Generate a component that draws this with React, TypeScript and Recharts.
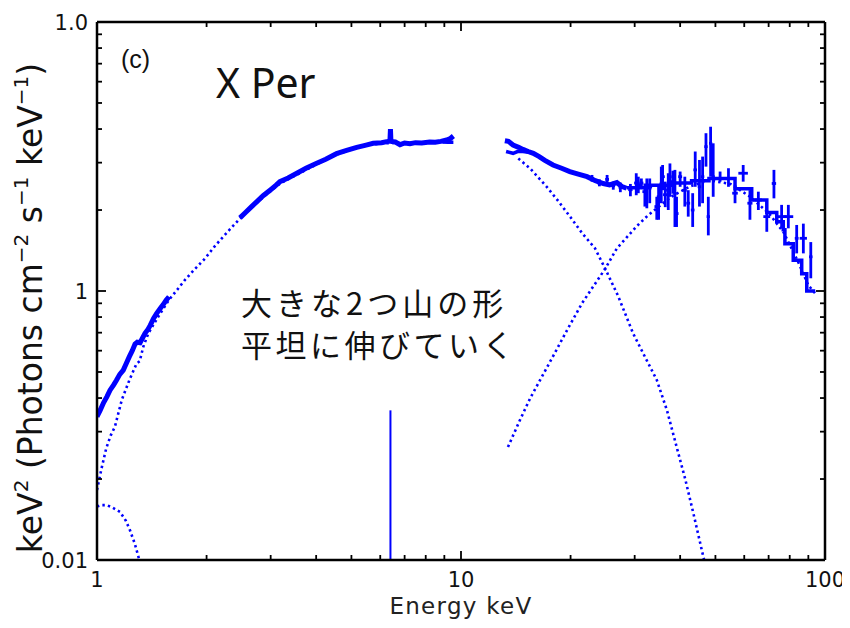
import React from "react";
import {
  ComposedChart,
  Line,
  Scatter,
  ErrorBar,
  XAxis,
  YAxis,
} from "recharts";

const W = 842;
const H = 628;
// plot frame inside the svg
const PL = 89;
const PT = 22;
const PR = 817;
const PB = 560;
const BLUE = "#0000ff";
const SANS = "'DejaVu Sans', sans-serif";

// [energy keV, keV^2 flux]
const softBand = [
  [1.0, 0.341], [1.02, 0.36], [1.043, 0.385], [1.065, 0.405], [1.086, 0.428],
  [1.11, 0.447], [1.13, 0.465], [1.155, 0.49], [1.181, 0.508], [1.205, 0.54],
  [1.227, 0.57], [1.25, 0.6], [1.272, 0.635], [1.29, 0.645], [1.313, 0.642],
  [1.335, 0.67], [1.355, 0.696], [1.38, 0.72], [1.4, 0.745], [1.43, 0.79],
  [1.459, 0.826], [1.49, 0.86], [1.52, 0.89], [1.55, 0.925], [1.577, 0.952],
];

const midBand = [
  [2.47, 1.87], [2.55, 1.95], [2.65, 2.05], [2.75, 2.15], [2.86, 2.26],
  [3.0, 2.38], [3.1, 2.47], [3.18, 2.55], [3.35, 2.63], [3.54, 2.74],
  [3.75, 2.86], [4.0, 2.98], [4.25, 3.09], [4.55, 3.24], [4.85, 3.33],
  [5.17, 3.42], [5.45, 3.48], [5.74, 3.54], [6.05, 3.56], [6.3, 3.6],
  [6.38, 3.62], [6.4, 4.0], [6.42, 3.6], [6.6, 3.58], [6.8, 3.5],
  [7.0, 3.55], [7.24, 3.53], [7.5, 3.56], [7.8, 3.55], [8.2, 3.58],
  [8.5, 3.57], [8.8, 3.6], [9.13, 3.64], [9.35, 3.69], [9.53, 3.77],
];
const midBandLow = [[8.9, 3.58], [9.2, 3.57], [9.53, 3.57]];

const hardBand = [
  [13.2, 3.62], [13.5, 3.6], [13.9, 3.49], [14.4, 3.42], [14.8, 3.36],
  [15.3, 3.3], [15.8, 3.25], [16.4, 3.16], [17.0, 3.06], [17.9, 2.94],
  [18.9, 2.86], [19.9, 2.78], [21.0, 2.72], [22.2, 2.66], [23.4, 2.57],
  [24.6, 2.51], [25.6, 2.48], [26.8, 2.53], [27.6, 2.45], [28.5, 2.41],
];
const hardBandLow = [[13.3, 3.3], [13.9, 3.25], [14.3, 3.3], [14.8, 3.3], [15.5, 3.27]];

// [energy, value, lower, upper, half bin width]
const hxdBins = [
  [22.9, 2.62, 2.55, 2.7, 0.3], [24.0, 2.52, 2.45, 2.6, 0.3],
  [25.2, 2.6, 2.5, 2.7, 0.3], [26.2, 2.46, 2.38, 2.55, 0.3],
  [27.4, 2.43, 2.33, 2.53, 0.3], [29.2, 2.38, 2.25, 2.5, 0.4],
  [30.3, 2.52, 2.27, 2.74, 0.4], [30.7, 2.48, 2.31, 2.66, 0.5],
  [31.3, 2.52, 2.4, 2.62, 0.4], [32.0, 2.34, 2.06, 2.51, 0.5],
  [32.4, 2.44, 2.03, 2.62, 0.4], [33.0, 2.44, 2.12, 2.62, 0.5],
  [34.5, 2.06, 1.84, 2.24, 0.5], [34.9, 2.24, 1.84, 2.44, 0.4],
  [35.5, 2.5, 2.12, 2.9, 0.4], [35.8, 2.66, 2.37, 2.94, 0.5],
  [36.4, 2.28, 2.05, 2.55, 0.5], [37.1, 2.37, 2.0, 2.74, 0.5],
  [37.5, 2.66, 2.24, 2.98, 0.4], [38.2, 2.55, 2.3, 2.8, 0.5],
  [38.7, 2.3, 1.73, 2.82, 0.4], [39.1, 1.94, 1.73, 2.24, 0.5],
  [40.0, 2.66, 2.44, 2.78, 0.5], [41.2, 2.37, 2.06, 2.66, 0.5],
  [42.1, 2.12, 1.89, 2.37, 0.5], [43.3, 2.0, 1.73, 2.31, 0.5],
  [44.0, 2.82, 2.44, 3.3, 0.5], [45.2, 2.44, 2.06, 3.07, 0.5],
  [46.1, 2.66, 2.12, 3.16, 0.5], [47.1, 3.44, 2.9, 3.86, 0.5],
  [47.8, 1.89, 1.61, 2.24, 0.5], [48.5, 3.54, 2.66, 4.08, 0.5],
  [49.3, 2.66, 2.24, 3.54, 0.5], [51.5, 2.62, 2.55, 2.78, 1.0],
  [54.3, 2.62, 2.44, 2.86, 1.0], [56.6, 2.31, 2.12, 2.48, 1.0],
  [59.6, 2.74, 2.55, 2.94, 1.8], [62.2, 2.12, 1.84, 2.37, 1.0],
  [65.6, 2.18, 2.0, 2.34, 1.5], [69.2, 1.89, 1.66, 2.0, 1.5],
  [72.4, 2.51, 2.21, 2.82, 1.0], [76.0, 1.89, 1.71, 2.09, 2.5],
  [79.3, 1.89, 1.71, 2.09, 2.5], [83.6, 1.57, 1.38, 1.76, 1.0],
  [87.2, 1.57, 1.38, 1.78, 2.0], [91.4, 1.34, 1.115, 1.52, 1.0],
];

const hxdModel = [
  [28.5, 2.42], [33, 2.47], [38, 2.52], [43, 2.57], [48, 2.62],
  [56.6, 2.4], [62.9, 2.18], [69.2, 1.96], [73.7, 1.81], [76.8, 1.69],
  [77.6, 1.5], [81.8, 1.3], [86.3, 1.16], [89.1, 1.0], [94.0, 1.0],
];

// model components (dotted)
const bbSoft = [
  [1.0, 0.182], [1.03, 0.22], [1.06, 0.26], [1.09, 0.29], [1.12, 0.313],
  [1.17, 0.394], [1.23, 0.47], [1.285, 0.538], [1.31, 0.548], [1.34, 0.62],
  [1.384, 0.696], [1.43, 0.75], [1.474, 0.803], [1.53, 0.87], [1.58, 0.93],
  [1.66, 1.01], [1.745, 1.1], [1.86, 1.21], [1.98, 1.32], [2.1, 1.46],
  [2.22, 1.59], [2.35, 1.73], [2.47, 1.86], [2.8, 2.18], [3.2, 2.52],
  [3.6, 2.74], [4.0, 2.95], [4.5, 3.2], [5.0, 3.36], [5.6, 3.5],
  [6.4, 3.55], [7.2, 3.55], [8.2, 3.57], [9.5, 3.6],
];
const bbHard = [
  [14.37, 3.11], [15.5, 2.85], [17.2, 2.44], [18.5, 2.16], [19.93, 1.89],
  [21.6, 1.63], [23.35, 1.44], [24.9, 1.21], [27.0, 0.96], [29.7, 0.696],
  [32.0, 0.57], [34.5, 0.467], [36.8, 0.36], [39.1, 0.264], [41.3, 0.2],
  [43.5, 0.149], [46.3, 0.103], [47.0, 0.095],
];
const hardHump = [
  [13.46, 0.263], [14.5, 0.33], [15.5, 0.4], [16.5, 0.467], [18.0, 0.58],
  [19.5, 0.71], [21.5, 0.9], [23.2, 1.05], [24.9, 1.21], [26.8, 1.44],
  [28.5, 1.58], [30.5, 1.75], [32.5, 1.9], [34.5, 2.03], [38.0, 2.25],
  [42.6, 2.45], [48.0, 2.58], [55, 2.5], [62, 2.25], [70, 1.95],
  [77, 1.65], [84, 1.3], [90, 1.05], [94, 0.98],
];
const softHump = [
  [1.0, 0.158], [1.03, 0.16], [1.063, 0.16], [1.1, 0.157], [1.157, 0.151],
  [1.2, 0.14], [1.232, 0.129], [1.27, 0.115], [1.307, 0.1],
];
const ironLine = [[6.4, 0.1], [6.4, 0.36]];

const xTicks = [1, 2, 3, 4, 5, 6, 7, 8, 9, 10, 20, 30, 40, 50, 60, 70, 80, 90, 100];
const yTicks = [0.1, 0.2, 0.3, 0.4, 0.5, 0.6, 0.7, 0.8, 0.9, 1, 2, 3, 4, 5, 6, 7, 8, 9, 10];
const yTickText: [number, string][] = [[10, "1.0"], [1, "1"], [0.1, "0.01"]];

const pts = (rows: number[][]) => rows.map(([e, v]) => ({ e, v }));
const isMajor = (v: number) => Math.abs(Math.log10(v) - Math.round(Math.log10(v))) < 1e-6;
const yLabel = (v: number) => yTickText.find(([k]) => Math.abs(k - v) < 1e-9)?.[1];

const binPts = hxdBins.map(([e, v, lo, hi, ew]) => ({ e, v, ey: [v - lo, hi - v], ex: ew }));

function BottomTick({ x, payload }: any) {
  const major = isMajor(payload.value);
  return (
    <g>
      <line x1={x} x2={x} y1={PB} y2={PB - (major ? 9 : 5)} stroke="#000" strokeWidth={1.8} />
      {major && (
        <text x={x} y={PB + 27} textAnchor="middle" fontSize={21} fontFamily={SANS} fill="#111">
          {payload.value}
        </text>
      )}
    </g>
  );
}

function TopTick({ x, payload }: any) {
  const major = isMajor(payload.value);
  return <line x1={x} x2={x} y1={PT} y2={PT + (major ? 9 : 5)} stroke="#000" strokeWidth={1.8} />;
}

function LeftTick({ y, payload }: any) {
  const major = isMajor(payload.value);
  const label = yLabel(payload.value);
  return (
    <g>
      <line x1={PL} x2={PL + (major ? 9 : 5)} y1={y} y2={y} stroke="#000" strokeWidth={1.8} />
      {label && (
        <text x={PL - 9} y={y + 8} textAnchor="end" fontSize={21} fontFamily={SANS} fill="#111">
          {label}
        </text>
      )}
    </g>
  );
}

function RightTick({ y, payload }: any) {
  const major = isMajor(payload.value);
  return <line x1={PR} x2={PR - (major ? 9 : 5)} y1={y} y2={y} stroke="#000" strokeWidth={1.8} />;
}

const noMarker = () => <g />;
const frame = { stroke: "#000", strokeWidth: 2.5 };

export default function App() {
  const solid = { stroke: BLUE, dot: false, isAnimationActive: false, type: "linear" as const };
  const dotted = { ...solid, strokeWidth: 2.6, strokeDasharray: "2.4 3.2" };
  return (
    <div style={{ width: W, height: H, margin: "-8px 0" }}>
      <ComposedChart width={W} height={H} margin={{ top: PT - 1, right: W - PR - 1, bottom: 0, left: 0 }}>
        <XAxis
          dataKey="e"
          type="number"
          scale="log"
          domain={[1, 100]}
          allowDataOverflow
          ticks={xTicks}
          interval={0}
          height={H - PB}
          tickLine={false}
          axisLine={frame}
          tick={BottomTick}
        />
        <XAxis
          xAxisId="top"
          orientation="top"
          dataKey="e"
          type="number"
          scale="log"
          domain={[1, 100]}
          allowDataOverflow
          ticks={xTicks}
          interval={0}
          height={1}
          tickLine={false}
          axisLine={frame}
          tick={TopTick}
        />
        <YAxis
          dataKey="v"
          type="number"
          scale="log"
          domain={[0.1, 10]}
          allowDataOverflow
          ticks={yTicks}
          interval={0}
          width={PL}
          tickLine={false}
          axisLine={frame}
          tick={LeftTick}
        />
        <YAxis
          yAxisId="right"
          orientation="right"
          dataKey="v"
          type="number"
          scale="log"
          domain={[0.1, 10]}
          allowDataOverflow
          ticks={yTicks}
          interval={0}
          width={1}
          tickLine={false}
          axisLine={frame}
          tick={RightTick}
        />

        <Line data={pts(softHump)} dataKey="v" {...dotted} />
        <Line data={pts(bbSoft)} dataKey="v" {...dotted} />
        <Line data={pts(bbHard)} dataKey="v" {...dotted} />
        <Line data={pts(hardHump)} dataKey="v" {...dotted} />
        <Line data={pts(ironLine)} dataKey="v" {...solid} strokeWidth={2} />

        <Line data={pts(softBand)} dataKey="v" {...solid} strokeWidth={5} />
        <Line data={pts(midBand)} dataKey="v" {...solid} strokeWidth={5} />
        <Line data={pts(midBandLow)} dataKey="v" {...solid} strokeWidth={3.5} />
        <Line data={pts(hardBand)} dataKey="v" {...solid} strokeWidth={5} />
        <Line data={pts(hardBandLow)} dataKey="v" {...solid} strokeWidth={3.5} />
        <Line data={pts(hxdModel)} dataKey="v" {...solid} type="stepAfter" strokeWidth={3.5} />
        <Scatter data={binPts} fill={BLUE} shape={noMarker} isAnimationActive={false}>
          <ErrorBar dataKey="ey" direction="y" width={0} stroke={BLUE} strokeWidth={2.8} isAnimationActive={false} />
          <ErrorBar dataKey="ex" direction="x" width={0} stroke={BLUE} strokeWidth={2.8} isAnimationActive={false} />
        </Scatter>

        <text x={34} y={308} transform="rotate(-90 34 308)" textAnchor="middle" fontSize={33} fontFamily={SANS} fill="#111">
          keV<tspan fontSize={20} dy={-14}>2</tspan>
          <tspan dy={14}> (Photons cm</tspan>
          <tspan fontSize={20} dy={-14}>−2</tspan>
          <tspan dy={14}> s</tspan>
          <tspan fontSize={20} dy={-14}>−1</tspan>
          <tspan dy={14}> keV</tspan>
          <tspan fontSize={20} dy={-14}>−1</tspan>
          <tspan dy={14}>)</tspan>
        </text>
        <text x={(PL + PR) / 2} y={614} textAnchor="middle" fontSize={23} fontFamily={SANS} letterSpacing={1.3} fill="#222">
          Energy keV
        </text>
        <text x={113} y={68} fontSize={25} fontFamily="'Liberation Sans', sans-serif" fill="#111">
          (c)
        </text>
        <text x={208} y={98} fontSize={41} fontFamily="'Noto Sans', sans-serif" fill="#111">
          X Per
        </text>
        <text x={233} y={315} fontSize={31} letterSpacing={4} fontFamily="'Noto Sans CJK JP', sans-serif" fill="#111">
          大きな2つ山の形
        </text>
        <text x={233} y={357} fontSize={31} letterSpacing={3.5} fontFamily="'Noto Sans CJK JP', sans-serif" fill="#111">
          平坦に伸びていく
        </text>
      </ComposedChart>
    </div>
  );
}
